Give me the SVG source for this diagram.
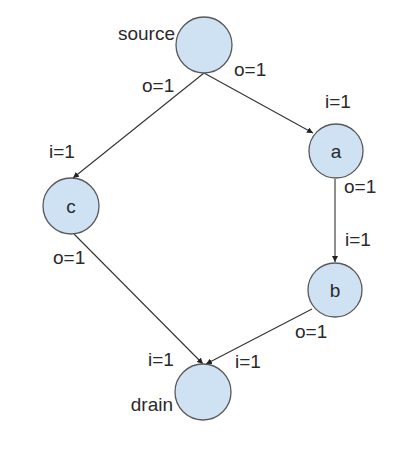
<svg xmlns="http://www.w3.org/2000/svg" width="416" height="452" viewBox="0 0 416 452">
<defs>
<style>
.node circle{fill:#cfe2f3;stroke:#595959;stroke-width:1.3}
text{font-family:"Liberation Sans",Arial,sans-serif;font-size:19px;fill:#2a2a2a}
.ctr{text-anchor:middle}
.end{text-anchor:end}
#edges line{stroke:#333;stroke-width:1.1;marker-end:url(#arr)}
</style>
<marker id="arr" viewBox="0 0 10 10" refX="10" refY="5" markerWidth="6" markerHeight="6" orient="auto" markerUnits="userSpaceOnUse">
<path d="M0,0 L10,5 L0,10 z" fill="#222"/>
</marker>
</defs>
<rect width="416" height="452" fill="#fff"/>
<g id="edges">
<line x1="204" y1="73" x2="313" y2="133"/>
<line x1="204" y1="73" x2="73" y2="178"/>
<line x1="335" y1="179" x2="335" y2="262"/>
<line x1="74" y1="234" x2="203" y2="364"/>
<line x1="312" y1="309" x2="206" y2="364"/>
<text x="142" y="92">o=1</text>
<text x="234" y="76">o=1</text>
<text x="325" y="108">i=1</text>
<text x="344" y="193">o=1</text>
<text x="345" y="246">i=1</text>
<text x="49" y="158">i=1</text>
<text x="53" y="264">o=1</text>
<text x="295" y="338">o=1</text>
<text x="148" y="366">i=1</text>
<text x="235" y="368">i=1</text>
</g>
<g id="source" class="node"><circle cx="204" cy="45" r="28"/><text class="end" x="175" y="40">source</text></g>
<g id="a" class="node"><circle cx="336" cy="151" r="27"/><text class="ctr" x="336" y="158">a</text></g>
<g id="b" class="node"><circle cx="335" cy="290" r="27"/><text class="ctr" x="335" y="297">b</text></g>
<g id="c" class="node"><circle cx="71" cy="206" r="28"/><text class="ctr" x="71" y="213">c</text></g>
<g id="drain" class="node"><circle cx="203" cy="392" r="28"/><text class="end" x="173" y="411">drain</text></g>
</svg>
